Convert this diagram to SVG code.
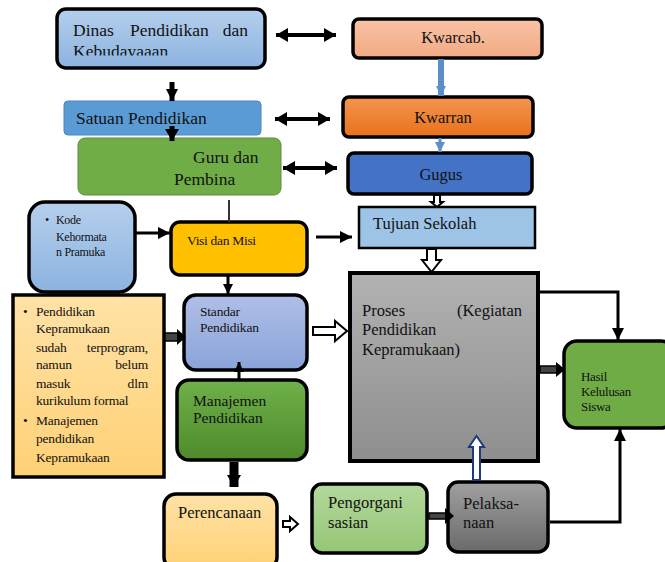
<svg xmlns="http://www.w3.org/2000/svg" width="665" height="562" viewBox="0 0 665 562" font-family="'Liberation Serif','DejaVu Serif','Noto Serif',serif">
<style>
.t{font-family:"Liberation Serif","DejaVu Serif","Noto Serif",serif;fill:#111}
.b{stroke:#000;stroke-width:3.5}
.ln{stroke:#000;stroke-width:3;fill:none}
.hol{fill:#fff;stroke:#000;stroke-width:2}
.gs{fill:#444;stroke:#000;stroke-width:1.5}
</style>
<defs>
<linearGradient id="gBlue" x1="0" y1="0" x2="0" y2="1"><stop offset="0" stop-color="#b5cfec"/><stop offset="1" stop-color="#8cb3e0"/></linearGradient>
<linearGradient id="gSalmon" x1="0" y1="0" x2="0" y2="1"><stop offset="0" stop-color="#f8c3a6"/><stop offset="1" stop-color="#f2a983"/></linearGradient>
<linearGradient id="gOrange" x1="0" y1="0" x2="0" y2="1"><stop offset="0" stop-color="#f59552"/><stop offset="1" stop-color="#e8711b"/></linearGradient>
<linearGradient id="gGray" x1="0" y1="0" x2="0" y2="1"><stop offset="0" stop-color="#b2b2b2"/><stop offset="1" stop-color="#8e8e8e"/></linearGradient>
<linearGradient id="gLav" x1="0" y1="0" x2="0" y2="1"><stop offset="0" stop-color="#afbfe6"/><stop offset="1" stop-color="#8aa3d9"/></linearGradient>
<linearGradient id="gMan" x1="0" y1="0" x2="0" y2="1"><stop offset="0" stop-color="#6fb14a"/><stop offset="1" stop-color="#4e8a2a"/></linearGradient>
<linearGradient id="gPeach" x1="0" y1="0" x2="0" y2="1"><stop offset="0" stop-color="#ffe2a6"/><stop offset="1" stop-color="#ffd176"/></linearGradient>
<linearGradient id="gLG" x1="0" y1="0" x2="0" y2="1"><stop offset="0" stop-color="#b3d89c"/><stop offset="1" stop-color="#95c676"/></linearGradient>
<linearGradient id="gDG" x1="0" y1="0" x2="0" y2="1"><stop offset="0" stop-color="#a0a0a0"/><stop offset="1" stop-color="#6a6a6a"/></linearGradient>
<marker id="ah" markerUnits="userSpaceOnUse" markerWidth="14" markerHeight="12" refX="12" refY="6" orient="auto-start-reverse"><path d="M0,0 L12,6 L0,12 Z" fill="#000"/></marker>
<marker id="ahs" markerUnits="userSpaceOnUse" markerWidth="12" markerHeight="10" refX="10" refY="5" orient="auto-start-reverse"><path d="M0,0 L10,5 L0,10 Z" fill="#000"/></marker>
<marker id="ahb" markerUnits="userSpaceOnUse" markerWidth="12" markerHeight="10" refX="10" refY="5" orient="auto"><path d="M0,0 L10,5 L0,10 Z" fill="#5b8fc9"/></marker>
<marker id="ahd" markerUnits="userSpaceOnUse" markerWidth="16" markerHeight="16" refX="12" refY="8" orient="auto-start-reverse"><path d="M0,1 L12,8 L0,15 Z" fill="#000"/></marker>
<clipPath id="cDinas"><rect x="57" y="8" width="208" height="47.5"/></clipPath>
</defs>

<g id="dinas">
  <rect class="b" x="57" y="9" width="208" height="59" rx="9" fill="url(#gBlue)"/>
  <g clip-path="url(#cDinas)" class="t" font-size="17.5">
    <text x="73" y="36">Dinas</text>
    <text x="130" y="36">Pendidikan</text>
    <text x="248" y="36" text-anchor="end">dan</text>
    <text x="73" y="57">Kebudayaaan</text>
  </g>
</g>

<g id="kwarcab">
  <rect class="b" x="353" y="19" width="189" height="39" rx="6" fill="url(#gSalmon)"/>
  <text class="t" x="453" y="43" font-size="16.5" text-anchor="middle">Kwarcab.</text>
</g>

<g id="kwarran">
  <rect class="b" x="343" y="97" width="190" height="40" rx="6" fill="url(#gOrange)"/>
  <text class="t" x="443" y="123" font-size="16.5" text-anchor="middle">Kwarran</text>
</g>

<g id="gugus">
  <rect class="b" x="348" y="153" width="184" height="41" rx="6" fill="#4472c4"/>
  <text class="t" x="441" y="180" font-size="16.5" text-anchor="middle">Gugus</text>
</g>

<g id="satuan">
  <rect x="64" y="101" width="197" height="34" rx="4" fill="#5b9bd5" stroke="#4a86c0" stroke-width="1"/>
  <text class="t" x="76" y="124" font-size="17.5">Satuan Pendidikan</text>
</g>

<g id="guru">
  <rect x="78" y="138" width="203" height="57" rx="7" fill="#70ad47" stroke="#5a8f38" stroke-width="1"/>
  <text class="t" x="193" y="163" font-size="17.5">Guru dan</text>
  <text class="t" x="174" y="185" font-size="17.5">Pembina</text>
</g>

<g id="kode">
  <rect class="b" x="29" y="202" width="106" height="90" rx="16" fill="url(#gBlue)"/>
  <text class="t" x="45" y="224" font-size="12">•</text>
  <text class="t" x="56" y="224" font-size="12" letter-spacing="-0.3">Kode</text>
  <text class="t" x="56" y="241" font-size="12" letter-spacing="-0.3">Kehormata</text>
  <text class="t" x="56" y="256" font-size="12" letter-spacing="-0.3">n Pramuka</text>
</g>

<g id="visi">
  <rect class="b" x="171" y="222" width="136" height="53" rx="9" fill="#ffc000"/>
  <text class="t" x="187" y="245" font-size="13.5" letter-spacing="-0.3">Visi dan Misi</text>
</g>

<g id="tujuan">
  <rect x="359" y="207" width="176" height="41" fill="#9dc3e6" stroke="#000" stroke-width="2.5"/>
  <text class="t" x="373" y="229" font-size="16.5">Tujuan Sekolah</text>
</g>

<g id="proses">
  <rect x="350" y="273" width="188" height="188" fill="url(#gGray)" stroke="#000" stroke-width="4"/>
  <text class="t" x="362" y="316" font-size="16.5">Proses</text>
  <text class="t" x="522" y="316" font-size="16.5" text-anchor="end">(Kegiatan</text>
  <text class="t" x="362" y="335" font-size="16.5">Pendidikan</text>
  <text class="t" x="362" y="355" font-size="16.5">Kepramukaan)</text>
</g>

<g id="hasil">
  <rect class="b" x="564" y="341" width="110" height="87" rx="13" fill="#6fac46"/>
  <text class="t" x="581" y="381" font-size="13" letter-spacing="-0.3">Hasil</text>
  <text class="t" x="581" y="396" font-size="13" letter-spacing="-0.3">Kelulusan</text>
  <text class="t" x="581" y="411" font-size="13" letter-spacing="-0.3">Siswa</text>
</g>

<g id="pendkep">
  <rect x="13" y="295" width="151" height="182" fill="url(#gPeach)" stroke="#000" stroke-width="3.5"/>
  <g class="t" font-size="13.5" letter-spacing="-0.2">
    <text x="23" y="316">•</text>
    <text x="36" y="316">Pendidikan</text>
    <text x="36" y="333">Kepramukaan</text>
    <text x="36" y="352">sudah</text>
    <text x="148" y="352" text-anchor="end">terprogram,</text>
    <text x="36" y="369">namun</text>
    <text x="148" y="369" text-anchor="end">belum</text>
    <text x="36" y="388">masuk</text>
    <text x="148" y="388" text-anchor="end">dlm</text>
    <text x="36" y="405">kurikulum formal</text>
    <text x="23" y="425">•</text>
    <text x="36" y="425">Manajemen</text>
    <text x="36" y="443">pendidikan</text>
    <text x="36" y="462">Kepramukaan</text>
  </g>
</g>

<g id="standar">
  <rect class="b" x="184" y="295" width="123" height="75" rx="12" fill="url(#gLav)"/>
  <text class="t" x="200" y="316" font-size="13.5" letter-spacing="-0.2">Standar</text>
  <text class="t" x="200" y="332" font-size="13.5" letter-spacing="-0.2">Pendidikan</text>
</g>

<g id="manajemen">
  <rect class="b" x="177" y="380" width="130" height="80" rx="12" fill="url(#gMan)"/>
  <text class="t" x="193" y="406" font-size="15.5">Manajemen</text>
  <text class="t" x="193" y="423" font-size="15.5">Pendidikan</text>
</g>

<g id="perencanaan">
  <rect class="b" x="164" y="494" width="113" height="75" rx="12" fill="url(#gPeach)"/>
  <text class="t" x="178" y="518" font-size="16.5">Perencanaan</text>
</g>

<g id="pengorganisasian">
  <rect class="b" x="312" y="484" width="115" height="69" rx="10" fill="url(#gLG)"/>
  <text class="t" x="328" y="508" font-size="16.5">Pengorgani</text>
  <text class="t" x="328" y="528" font-size="16.5">sasian</text>
</g>

<g id="pelaksanaan">
  <rect class="b" x="448" y="482" width="100" height="70" rx="10" fill="url(#gDG)"/>
  <text class="t" x="463" y="509" font-size="16.5">Pelaksa-</text>
  <text class="t" x="463" y="528" font-size="16.5">naan</text>
</g>

<g id="connectors">
  <line x1="276" y1="35" x2="336" y2="35" stroke="#000" stroke-width="4" marker-start="url(#ahd)" marker-end="url(#ahd)"/>
  <line x1="275" y1="119" x2="330" y2="119" stroke="#000" stroke-width="4" marker-start="url(#ahd)" marker-end="url(#ahd)"/>
  <line x1="283" y1="168" x2="337" y2="168" stroke="#000" stroke-width="4" marker-start="url(#ahd)" marker-end="url(#ahd)"/>
  <line x1="172" y1="82" x2="172" y2="101" stroke="#000" stroke-width="5" marker-end="url(#ah)"/>
  <line x1="172" y1="126" x2="172" y2="141" stroke="#000" stroke-width="5" marker-end="url(#ahd)"/>
  <line x1="441" y1="59" x2="441" y2="96" stroke="#5b8fc9" stroke-width="6" marker-end="url(#ahb)"/>
  <line x1="440" y1="138" x2="440" y2="152" stroke="#5b8fc9" stroke-width="3" marker-end="url(#ahb)"/>
  <path class="hol" d="M434,195 L440,195 L440,202 L443,202 L437,207 L431,202 L434,202 Z" stroke-width="1.5"/>
  <line x1="229" y1="200" x2="229" y2="222" stroke="#333" stroke-width="2"/>
  <line x1="136" y1="233" x2="170" y2="233" class="ln" marker-end="url(#ah)"/>
  <line x1="316" y1="237" x2="352" y2="237" class="ln" marker-end="url(#ah)"/>
  <line x1="228" y1="276" x2="228" y2="294" class="ln" marker-end="url(#ahs)"/>
  <path class="hol" d="M427,249 L436,249 L436,260 L441,260 L431.5,272 L422,260 L427,260 Z"/>
  <rect class="gs" x="165" y="333" width="13" height="8"/>
  <path d="M177,329 L186,337 L177,345 Z" fill="#000"/>
  <path class="hol" d="M313,327 L335,327 L335,321 L347,331 L335,341 L335,335 L313,335 Z" stroke-width="2.5"/>
  <line x1="239" y1="379" x2="239" y2="362" class="ln" marker-end="url(#ahs)"/>
  <line x1="234" y1="462" x2="234" y2="487" stroke="#000" stroke-width="9" marker-end="url(#ahd)"/>
  <polyline points="538,292 618,292 618,340" class="ln" marker-end="url(#ah)"/>
  <rect class="gs" x="540" y="366" width="17" height="7"/>
  <path d="M556,362 L565,369.5 L556,377 Z" fill="#000"/>
  <polyline points="550,522 620,522 620,429" class="ln" marker-end="url(#ah)"/>
  <path d="M473,480 L480,480 L480,447 L484,447 L476.5,436 L469,447 L473,447 Z" fill="#fff" stroke="#1f3a7a" stroke-width="2"/>
  <path class="hol" d="M283,521 L290,521 L290,517 L298,524 L290,531 L290,527 L283,527 Z"/>
  <rect class="gs" x="429" y="513" width="17" height="6"/>
  <path d="M445,508 L454,516 L445,524 Z" fill="#000"/>
</g>
</svg>
